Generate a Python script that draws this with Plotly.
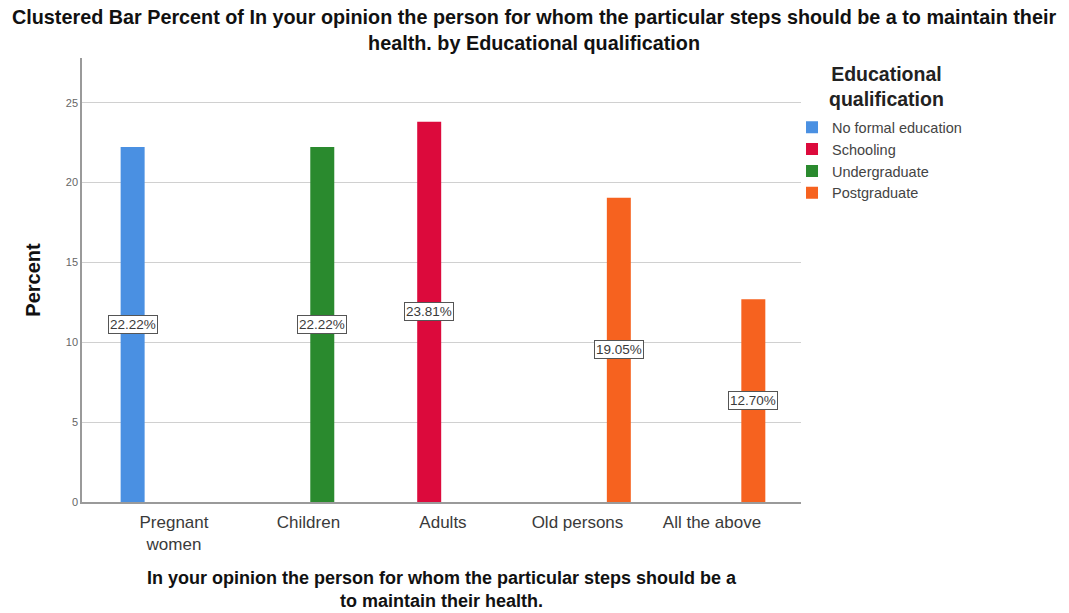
import plotly.graph_objects as go

categories = ["Pregnant women", "Children", "Adults", "Old persons", "All the above"]
tick_labels = ["Pregnant<br>women", "Children", "Adults", "Old persons", "All the above"]

series_names = ["No formal education", "Schooling", "Undergraduate", "Postgraduate"]
no_formal = [22.22, None, None, None, None]
schooling = [None, None, 23.81, None, None]
undergraduate = [None, 22.22, None, None, None]
postgraduate = [None, None, None, 19.05, 12.70]
series_values = [no_formal, schooling, undergraduate, postgraduate]
colors = ["#4A90E2", "#DC0A3C", "#2A8A2E", "#F6621F"]

y_ticks = [0, 5, 10, 15, 20, 25]

title_text = ("Clustered Bar Percent of In your opinion the person for whom the particular steps should be a to maintain their"
              "<br>health. by Educational qualification")
x_title = ("In your opinion the person for whom the particular steps should be a"
           "<br>to maintain their health.")
legend_title = "Educational<br>qualification"

BARGAP = 0.18
BARGROUPGAP = 0.13
FONT = "Liberation Sans, Arial, sans-serif"

xs = list(range(len(categories)))
fig = go.Figure()
for name, vals, col in zip(series_names, series_values, colors):
    fig.add_trace(go.Bar(x=xs, y=vals, name=name, marker=dict(color=col, line=dict(width=0))))

annotations = []
n = len(series_names)
for k, vals in enumerate(series_values):
    for i, v in enumerate(vals):
        if v is None:
            continue
        xpos = i + (k - (n - 1) / 2) * (1 - BARGAP) / n
        annotations.append(dict(
            x=xpos, y=v / 2, xref="x", yref="y", text=f"{v:.2f}%", showarrow=False,
            font=dict(family=FONT, size=13.5, color="#3a3a3a"),
            bgcolor="white", bordercolor="#555555", borderwidth=1, borderpad=1,
        ))

# chart title
annotations.append(dict(
    x=0.6287, y=1.0625, xref="paper", yref="paper", xanchor="center", yanchor="middle",
    text="<b>" + title_text + "</b>", showarrow=False,
    font=dict(family=FONT, size=19.8, color="#111111"),
))
# x-axis title
annotations.append(dict(
    x=0.5, y=-0.197, xref="paper", yref="paper", xanchor="center", yanchor="middle",
    text="<b>" + x_title + "</b>", showarrow=False,
    font=dict(family=FONT, size=18, color="#111111"),
))
# legend title
annotations.append(dict(
    x=1.1196, y=0.9347, xref="paper", yref="paper", xanchor="center", yanchor="middle",
    text="<b>" + legend_title + "</b>", showarrow=False,
    font=dict(family=FONT, size=19.5, color="#222222"),
))

fig.update_layout(
    width=1069, height=613,
    margin=dict(l=82, r=268, t=58, b=111),
    paper_bgcolor="white", plot_bgcolor="white",
    barmode="group", bargap=BARGAP, bargroupgap=BARGROUPGAP,
    font=dict(family=FONT),
    showlegend=True,
    legend=dict(
        x=0.9875, xanchor="left", y=0.880, yanchor="top",
        font=dict(family=FONT, size=14.5, color="#444444"),
        bgcolor="rgba(0,0,0,0)", itemwidth=30, traceorder="normal",
    ),
    annotations=annotations,
)
fig.update_xaxes(
    range=[-0.684, 4.662], tickvals=xs, ticktext=tick_labels,
    showline=True, linecolor="#9a9a9a", linewidth=1.5, showgrid=False, zeroline=False,
    ticks="", ticklabelstandoff=4, tickfont=dict(family=FONT, size=17, color="#3a3a3a"),
)
fig.update_yaxes(
    range=[0, 27.8], tickvals=y_ticks, showline=True, linecolor="#9a9a9a", linewidth=1.5,
    showgrid=True, gridcolor="#d0d0d0", gridwidth=1, zeroline=False,
    ticks="", tickfont=dict(family=FONT, size=11, color="#666666"),
    title=dict(text="<b>Percent</b>", font=dict(family=FONT, size=20, color="#111111"), standoff=20),
)

fig.write_html("out.html")
